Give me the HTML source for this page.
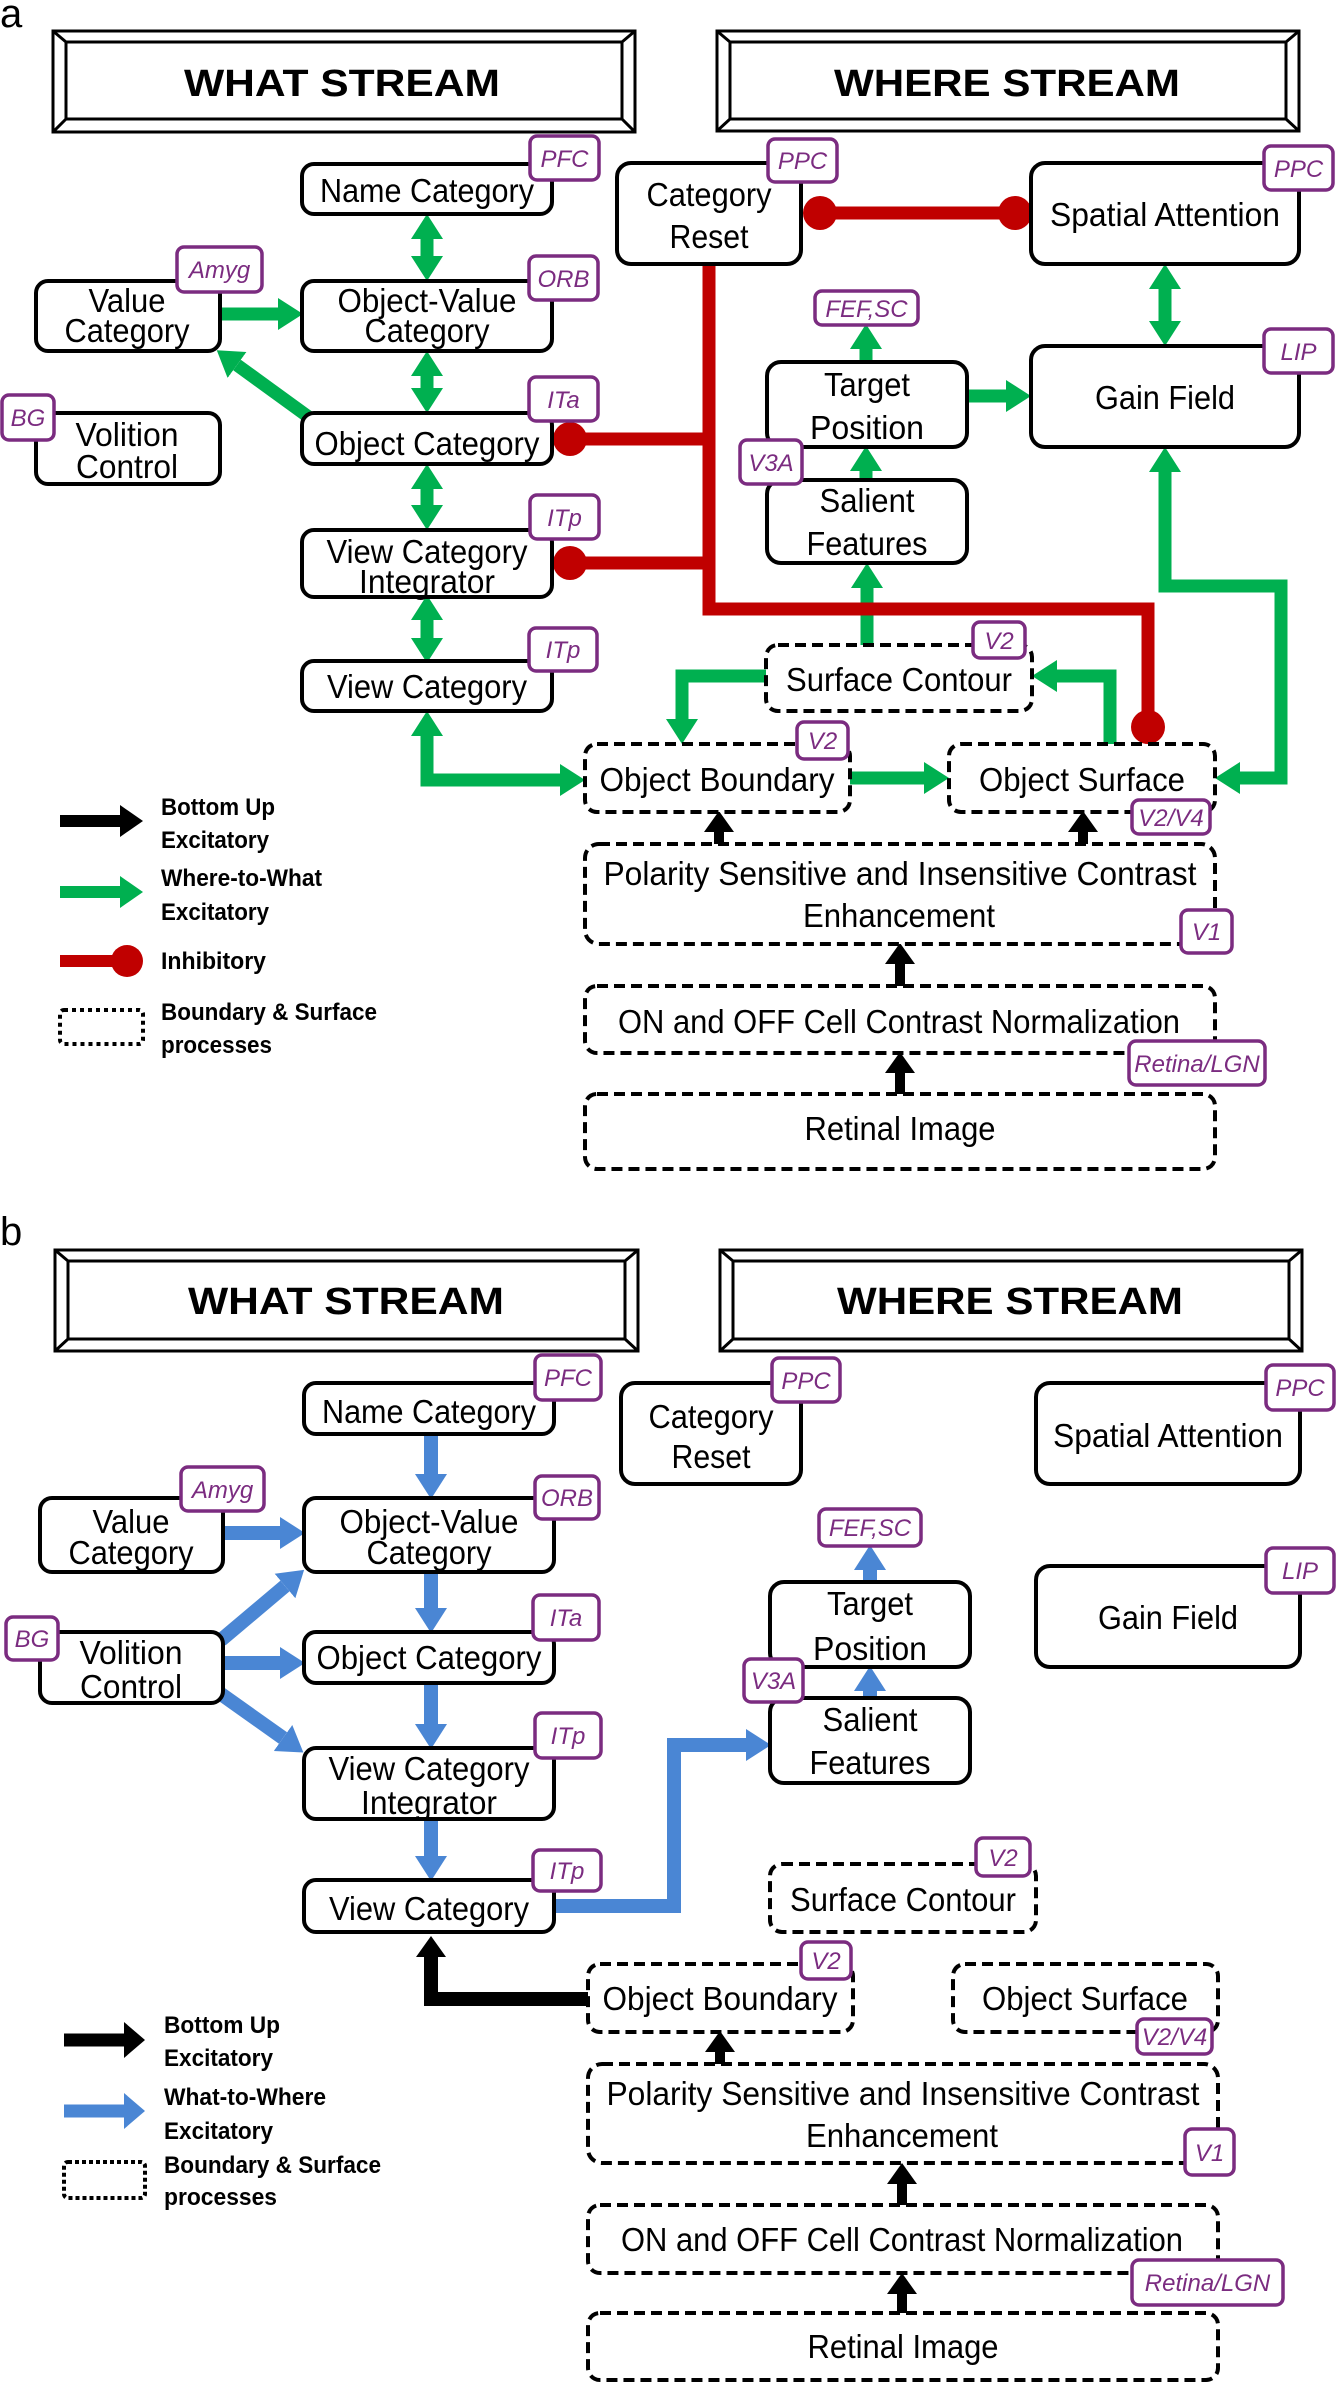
<!DOCTYPE html>
<html><head><meta charset="utf-8"><style>
html,body{margin:0;padding:0;background:#fff}
svg{display:block}
.bx{fill:#fff;stroke:#000;stroke-width:4}
.dbx{fill:#fff;stroke:#000;stroke-width:4;stroke-dasharray:11 6}
.t{font-family:"Liberation Sans",sans-serif;font-size:33px;text-anchor:middle;fill:#000}
.h{font-family:"Liberation Sans",sans-serif;font-size:38px;font-weight:900;text-anchor:middle;fill:#000}
.bd{fill:#fff;stroke:#7B2C80;stroke-width:3.5}
.bt{font-family:"Liberation Sans",sans-serif;font-size:24px;font-style:italic;text-anchor:middle;fill:#7B2C80}
.lg{font-family:"Liberation Sans",sans-serif;font-size:24px;font-weight:bold;fill:#000}
.g{stroke:#00B050;stroke-width:13;fill:none}
.r{stroke:#C00000;stroke-width:13;fill:none}
.k{stroke:#000;stroke-width:10;fill:none}
.kb{stroke:#000;stroke-width:14;fill:none}
.b{stroke:#4A86D4;stroke-width:14;fill:none}
</style></head><body>
<svg width="1337" height="2383" viewBox="0 0 1337 2383" xmlns="http://www.w3.org/2000/svg">
<defs>
<marker id="mg" markerUnits="userSpaceOnUse" markerWidth="26" markerHeight="34" refX="0" refY="17" orient="auto-start-reverse"><path d="M0,1 L25,17 L0,33 z" fill="#00B050"/></marker>
<marker id="mk" markerUnits="userSpaceOnUse" markerWidth="22" markerHeight="32" refX="0" refY="16" orient="auto-start-reverse"><path d="M0,1 L21,16 L0,31 z" fill="#000"/></marker>
<marker id="mb" markerUnits="userSpaceOnUse" markerWidth="26" markerHeight="34" refX="0" refY="17" orient="auto-start-reverse"><path d="M0,1 L25,17 L0,33 z" fill="#4A86D4"/></marker>
</defs>

<!-- ================= PANEL A ================= -->
<text x="0" y="27" font-family="Liberation Sans,sans-serif" font-size="40">a</text>
<!-- header boxes -->
<g fill="none" stroke="#000" stroke-width="3">
<rect x="53" y="31" width="582" height="101"/><rect x="66" y="42" width="556" height="77"/>
<path d="M53,31 L66,42 M635,31 L622,42 M53,132 L66,119 M635,132 L622,119"/>
<rect x="717" y="31" width="582" height="100"/><rect x="730" y="42" width="556" height="77"/>
<path d="M717,31 L730,42 M1299,31 L1286,42 M717,131 L730,119 M1299,131 L1286,119"/>
</g>
<text class="h" x="342" y="96" textLength="316" lengthAdjust="spacingAndGlyphs">WHAT STREAM</text>
<text class="h" x="1007" y="96" textLength="346" lengthAdjust="spacingAndGlyphs">WHERE STREAM</text>

<!-- connectors A -->
<g class="g">
<line x1="427" y1="239" x2="427" y2="256" marker-start="url(#mg)" marker-end="url(#mg)"/>
<line x1="427" y1="376" x2="427" y2="388" marker-start="url(#mg)" marker-end="url(#mg)"/>
<line x1="427" y1="489" x2="427" y2="505" marker-start="url(#mg)" marker-end="url(#mg)"/>
<line x1="427" y1="620" x2="427" y2="638" marker-start="url(#mg)" marker-end="url(#mg)"/>
<line x1="220" y1="314" x2="278" y2="314" marker-end="url(#mg)"/>
<line x1="310" y1="418" x2="237" y2="365" marker-end="url(#mg)"/>
<path d="M427,736 L427,780 L560,780" marker-start="url(#mg)" marker-end="url(#mg)"/>
<line x1="867" y1="645" x2="867" y2="588" marker-end="url(#mg)"/>
<line x1="866" y1="362" x2="866" y2="349" marker-end="url(#mg)"/>
<line x1="866" y1="480" x2="866" y2="471" marker-end="url(#mg)"/>
<line x1="967" y1="396" x2="1006" y2="396" marker-end="url(#mg)"/>
<line x1="1165" y1="289" x2="1165" y2="321" marker-start="url(#mg)" marker-end="url(#mg)"/>
<path d="M1165,472 L1165,586 L1281,586 L1281,778 L1240,778" marker-start="url(#mg)" marker-end="url(#mg)"/>
<path d="M766,676 L682,676 L682,719" marker-end="url(#mg)"/>
<path d="M1110,744 L1110,676 L1057,676" marker-end="url(#mg)"/>
<line x1="850" y1="778" x2="924" y2="778" marker-end="url(#mg)"/>
</g>
<g class="r">
<line x1="820" y1="213" x2="1015" y2="213"/>
<path d="M709,264 L709,609 L1148,609 L1148,727"/>
<line x1="570" y1="439" x2="709" y2="439"/>
<line x1="570" y1="563" x2="709" y2="563"/>
</g>
<g fill="#C00000">
<circle cx="820" cy="213" r="17"/><circle cx="1015" cy="213" r="17"/>
<circle cx="570" cy="439" r="17"/><circle cx="570" cy="563" r="17"/><circle cx="1148" cy="727" r="17"/>
</g>
<g class="k">
<line x1="719" y1="844" x2="719" y2="832" marker-end="url(#mk)"/>
<line x1="1083" y1="844" x2="1083" y2="832" marker-end="url(#mk)"/>
<line x1="900" y1="986" x2="900" y2="964" marker-end="url(#mk)"/>
<line x1="900" y1="1094" x2="900" y2="1073" marker-end="url(#mk)"/>
</g>

<!-- boxes A -->
<rect class="bx" x="302" y="164" width="250" height="50" rx="12"/>
<rect class="bx" x="302" y="281" width="250" height="70" rx="12"/>
<rect class="bx" x="36" y="281" width="184" height="70" rx="12"/>
<rect class="bx" x="36" y="413" width="184" height="71" rx="12"/>
<rect class="bx" x="302" y="413" width="250" height="51" rx="12"/>
<rect class="bx" x="302" y="530" width="250" height="67" rx="12"/>
<rect class="bx" x="302" y="661" width="250" height="50" rx="12"/>
<rect class="bx" x="617" y="163" width="184" height="101" rx="14"/>
<rect class="bx" x="1031" y="163" width="268" height="101" rx="14"/>
<rect class="bx" x="1031" y="346" width="268" height="101" rx="14"/>
<rect class="bx" x="767" y="362" width="200" height="85" rx="14"/>
<rect class="bx" x="767" y="480" width="200" height="83" rx="14"/>
<rect class="dbx" x="766" y="645" width="266" height="66" rx="12"/>
<rect class="dbx" x="585" y="744" width="265" height="68" rx="12"/>
<rect class="dbx" x="949" y="744" width="266" height="68" rx="12"/>
<rect class="dbx" x="585" y="844" width="630" height="100" rx="14"/>
<rect class="dbx" x="585" y="986" width="630" height="67" rx="12"/>
<rect class="dbx" x="585" y="1094" width="630" height="75" rx="12"/>

<g>
<text class="t" x="427" y="202" textLength="214" lengthAdjust="spacingAndGlyphs">Name Category</text>
<text class="t" x="427" y="312" textLength="179" lengthAdjust="spacingAndGlyphs">Object-Value</text>
<text class="t" x="427" y="342" textLength="125" lengthAdjust="spacingAndGlyphs">Category</text>
<text class="t" x="127" y="312" textLength="77" lengthAdjust="spacingAndGlyphs">Value</text>
<text class="t" x="127" y="342" textLength="125" lengthAdjust="spacingAndGlyphs">Category</text>
<text class="t" x="127" y="446" textLength="103" lengthAdjust="spacingAndGlyphs">Volition</text>
<text class="t" x="127" y="478" textLength="102" lengthAdjust="spacingAndGlyphs">Control</text>
<text class="t" x="427" y="455" textLength="225" lengthAdjust="spacingAndGlyphs">Object Category</text>
<text class="t" x="427" y="563" textLength="201" lengthAdjust="spacingAndGlyphs">View Category</text>
<text class="t" x="427" y="593" textLength="136" lengthAdjust="spacingAndGlyphs">Integrator</text>
<text class="t" x="427" y="698" textLength="200" lengthAdjust="spacingAndGlyphs">View Category</text>
<text class="t" x="709" y="206" textLength="125" lengthAdjust="spacingAndGlyphs">Category</text>
<text class="t" x="709" y="248" textLength="79" lengthAdjust="spacingAndGlyphs">Reset</text>
<text class="t" x="1165" y="226" textLength="230" lengthAdjust="spacingAndGlyphs">Spatial Attention</text>
<text class="t" x="1165" y="409" textLength="140" lengthAdjust="spacingAndGlyphs">Gain Field</text>
<text class="t" x="867" y="396" textLength="86" lengthAdjust="spacingAndGlyphs">Target</text>
<text class="t" x="867" y="439" textLength="114" lengthAdjust="spacingAndGlyphs">Position</text>
<text class="t" x="867" y="512" textLength="95" lengthAdjust="spacingAndGlyphs">Salient</text>
<text class="t" x="867" y="555" textLength="121" lengthAdjust="spacingAndGlyphs">Features</text>
<text class="t" x="899" y="691" textLength="226" lengthAdjust="spacingAndGlyphs">Surface Contour</text>
<text class="t" x="717" y="791" textLength="235" lengthAdjust="spacingAndGlyphs">Object Boundary</text>
<text class="t" x="1082" y="791" textLength="206" lengthAdjust="spacingAndGlyphs">Object Surface</text>
<text class="t" x="900" y="885" textLength="593" lengthAdjust="spacingAndGlyphs">Polarity Sensitive and Insensitive Contrast</text>
<text class="t" x="899" y="927" textLength="192" lengthAdjust="spacingAndGlyphs">Enhancement</text>
<text class="t" x="899" y="1033" textLength="562" lengthAdjust="spacingAndGlyphs">ON and OFF Cell Contrast Normalization</text>
<text class="t" x="900" y="1140" textLength="191" lengthAdjust="spacingAndGlyphs">Retinal Image</text>
</g>

<!-- badges A -->
<g>
<rect class="bd" x="530" y="136" width="69" height="44" rx="7"/><text class="bt" x="564.5" y="167">PFC</text>
<rect class="bd" x="177" y="247" width="85" height="45" rx="7"/><text class="bt" x="219.5" y="278">Amyg</text>
<rect class="bd" x="529" y="256" width="69" height="44" rx="7"/><text class="bt" x="563.5" y="287">ORB</text>
<rect class="bd" x="2" y="395" width="52" height="45" rx="7"/><text class="bt" x="28" y="426">BG</text>
<rect class="bd" x="529" y="377" width="69" height="44" rx="7"/><text class="bt" x="563.5" y="408">ITa</text>
<rect class="bd" x="530" y="495" width="69" height="44" rx="7"/><text class="bt" x="564.5" y="526">ITp</text>
<rect class="bd" x="529" y="628" width="68" height="43" rx="7"/><text class="bt" x="563" y="658">ITp</text>
<rect class="bd" x="768" y="139" width="69" height="43" rx="7"/><text class="bt" x="802.5" y="169">PPC</text>
<rect class="bd" x="1264" y="146" width="69" height="44" rx="7"/><text class="bt" x="1298.5" y="177">PPC</text>
<rect class="bd" x="815" y="291" width="103" height="34" rx="7"/><text class="bt" x="866.5" y="317">FEF,SC</text>
<rect class="bd" x="1264" y="329" width="69" height="44" rx="7"/><text class="bt" x="1298.5" y="360">LIP</text>
<rect class="bd" x="740" y="440" width="62" height="44" rx="7"/><text class="bt" x="771" y="471">V3A</text>
<rect class="bd" x="973" y="622" width="52" height="36" rx="7"/><text class="bt" x="999" y="649">V2</text>
<rect class="bd" x="797" y="722" width="51" height="37" rx="7"/><text class="bt" x="822.5" y="749">V2</text>
<rect class="bd" x="1132" y="800" width="78" height="34" rx="7"/><text class="bt" x="1171" y="826">V2/V4</text>
<rect class="bd" x="1181" y="910" width="51" height="43" rx="7"/><text class="bt" x="1206.5" y="940">V1</text>
<rect class="bd" x="1129" y="1041" width="136" height="44" rx="7"/><text class="bt" x="1197" y="1072">Retina/LGN</text>
</g>

<!-- legend A -->
<line x1="60" y1="821" x2="121" y2="821" stroke="#000" stroke-width="12"/><path d="M120,805 L143,821 L120,837z" fill="#000"/>
<line x1="60" y1="892" x2="121" y2="892" stroke="#00B050" stroke-width="12"/><path d="M120,876 L143,892 L120,908z" fill="#00B050"/>
<line x1="60" y1="961" x2="126" y2="961" stroke="#C00000" stroke-width="12"/><circle cx="127" cy="961" r="16" fill="#C00000"/>
<rect x="60" y="1010" width="83" height="34" rx="4" fill="none" stroke="#000" stroke-width="4" stroke-dasharray="4 4"/>
<text class="lg" x="161" y="815" textLength="114" lengthAdjust="spacingAndGlyphs">Bottom Up</text>
<text class="lg" x="161" y="848" textLength="108" lengthAdjust="spacingAndGlyphs">Excitatory</text>
<text class="lg" x="161" y="886" textLength="161" lengthAdjust="spacingAndGlyphs">Where-to-What</text>
<text class="lg" x="161" y="920" textLength="108" lengthAdjust="spacingAndGlyphs">Excitatory</text>
<text class="lg" x="161" y="969" textLength="105" lengthAdjust="spacingAndGlyphs">Inhibitory</text>
<text class="lg" x="161" y="1020" textLength="216" lengthAdjust="spacingAndGlyphs">Boundary &amp; Surface</text>
<text class="lg" x="161" y="1053" textLength="111" lengthAdjust="spacingAndGlyphs">processes</text>

<!-- ================= PANEL B ================= -->
<text x="0" y="1245" font-family="Liberation Sans,sans-serif" font-size="40">b</text>
<g fill="none" stroke="#000" stroke-width="3">
<rect x="55" y="1250" width="583" height="101"/><rect x="68" y="1261" width="557" height="78"/>
<path d="M55,1250 L68,1261 M638,1250 L625,1261 M55,1351 L68,1339 M638,1351 L625,1339"/>
<rect x="720" y="1250" width="582" height="101"/><rect x="733" y="1261" width="556" height="78"/>
<path d="M720,1250 L733,1261 M1302,1250 L1289,1261 M720,1351 L733,1339 M1302,1351 L1289,1339"/>
</g>
<text class="h" x="346" y="1314" textLength="316" lengthAdjust="spacingAndGlyphs">WHAT STREAM</text>
<text class="h" x="1010" y="1314" textLength="346" lengthAdjust="spacingAndGlyphs">WHERE STREAM</text>

<g class="b">
<line x1="431" y1="1434" x2="431" y2="1474" marker-end="url(#mb)"/>
<line x1="431" y1="1572" x2="431" y2="1608" marker-end="url(#mb)"/>
<line x1="431" y1="1683" x2="431" y2="1724" marker-end="url(#mb)"/>
<line x1="431" y1="1819" x2="431" y2="1856" marker-end="url(#mb)"/>
<line x1="223" y1="1533" x2="280" y2="1533" marker-end="url(#mb)"/>
<line x1="221" y1="1640" x2="285" y2="1586" marker-end="url(#mb)"/>
<line x1="223" y1="1663" x2="280" y2="1663" marker-end="url(#mb)"/>
<line x1="221" y1="1694" x2="283" y2="1738" marker-end="url(#mb)"/>
<path d="M554,1906 L674,1906 L674,1745 L746,1745" marker-end="url(#mb)"/>
<line x1="870" y1="1582" x2="870" y2="1570" marker-end="url(#mb)"/>
<line x1="870" y1="1698" x2="870" y2="1691" marker-end="url(#mb)"/>
</g>
<path class="kb" d="M588,1999 L431,1999 L431,1957" marker-end="url(#mk)"/>
<g class="k">
<line x1="720" y1="2064" x2="720" y2="2052" marker-end="url(#mk)"/>
<line x1="902" y1="2205" x2="902" y2="2184" marker-end="url(#mk)"/>
<line x1="902" y1="2313" x2="902" y2="2294" marker-end="url(#mk)"/>
</g>

<rect class="bx" x="304" y="1383" width="250" height="51" rx="12"/>
<rect class="bx" x="621" y="1383" width="180" height="101" rx="14"/>
<rect class="bx" x="1036" y="1383" width="264" height="101" rx="14"/>
<rect class="bx" x="40" y="1498" width="183" height="74" rx="12"/>
<rect class="bx" x="304" y="1498" width="250" height="74" rx="12"/>
<rect class="bx" x="1036" y="1566" width="264" height="101" rx="14"/>
<rect class="bx" x="770" y="1582" width="200" height="85" rx="14"/>
<rect class="bx" x="770" y="1698" width="200" height="85" rx="14"/>
<rect class="bx" x="40" y="1632" width="183" height="71" rx="12"/>
<rect class="bx" x="304" y="1632" width="250" height="51" rx="12"/>
<rect class="bx" x="304" y="1748" width="250" height="71" rx="12"/>
<rect class="bx" x="304" y="1880" width="250" height="52" rx="12"/>
<rect class="dbx" x="770" y="1864" width="266" height="68" rx="12"/>
<rect class="dbx" x="588" y="1964" width="265" height="68" rx="12"/>
<rect class="dbx" x="953" y="1964" width="265" height="68" rx="12"/>
<rect class="dbx" x="588" y="2064" width="630" height="99" rx="14"/>
<rect class="dbx" x="588" y="2205" width="630" height="68" rx="12"/>
<rect class="dbx" x="588" y="2313" width="630" height="67" rx="12"/>

<g>
<text class="t" x="429" y="1423" textLength="214" lengthAdjust="spacingAndGlyphs">Name Category</text>
<text class="t" x="711" y="1428" textLength="125" lengthAdjust="spacingAndGlyphs">Category</text>
<text class="t" x="711" y="1468" textLength="79" lengthAdjust="spacingAndGlyphs">Reset</text>
<text class="t" x="1168" y="1447" textLength="230" lengthAdjust="spacingAndGlyphs">Spatial Attention</text>
<text class="t" x="131" y="1533" textLength="77" lengthAdjust="spacingAndGlyphs">Value</text>
<text class="t" x="131" y="1564" textLength="125" lengthAdjust="spacingAndGlyphs">Category</text>
<text class="t" x="429" y="1533" textLength="179" lengthAdjust="spacingAndGlyphs">Object-Value</text>
<text class="t" x="429" y="1564" textLength="125" lengthAdjust="spacingAndGlyphs">Category</text>
<text class="t" x="1168" y="1629" textLength="140" lengthAdjust="spacingAndGlyphs">Gain Field</text>
<text class="t" x="870" y="1615" textLength="86" lengthAdjust="spacingAndGlyphs">Target</text>
<text class="t" x="870" y="1660" textLength="114" lengthAdjust="spacingAndGlyphs">Position</text>
<text class="t" x="131" y="1664" textLength="103" lengthAdjust="spacingAndGlyphs">Volition</text>
<text class="t" x="131" y="1698" textLength="102" lengthAdjust="spacingAndGlyphs">Control</text>
<text class="t" x="429" y="1669" textLength="225" lengthAdjust="spacingAndGlyphs">Object Category</text>
<text class="t" x="429" y="1780" textLength="201" lengthAdjust="spacingAndGlyphs">View Category</text>
<text class="t" x="429" y="1814" textLength="136" lengthAdjust="spacingAndGlyphs">Integrator</text>
<text class="t" x="870" y="1731" textLength="95" lengthAdjust="spacingAndGlyphs">Salient</text>
<text class="t" x="870" y="1774" textLength="121" lengthAdjust="spacingAndGlyphs">Features</text>
<text class="t" x="429" y="1920" textLength="200" lengthAdjust="spacingAndGlyphs">View Category</text>
<text class="t" x="903" y="1911" textLength="226" lengthAdjust="spacingAndGlyphs">Surface Contour</text>
<text class="t" x="720" y="2010" textLength="235" lengthAdjust="spacingAndGlyphs">Object Boundary</text>
<text class="t" x="1085" y="2010" textLength="206" lengthAdjust="spacingAndGlyphs">Object Surface</text>
<text class="t" x="903" y="2105" textLength="593" lengthAdjust="spacingAndGlyphs">Polarity Sensitive and Insensitive Contrast</text>
<text class="t" x="902" y="2147" textLength="192" lengthAdjust="spacingAndGlyphs">Enhancement</text>
<text class="t" x="902" y="2251" textLength="562" lengthAdjust="spacingAndGlyphs">ON and OFF Cell Contrast Normalization</text>
<text class="t" x="903" y="2358" textLength="191" lengthAdjust="spacingAndGlyphs">Retinal Image</text>
</g>

<g>
<rect class="bd" x="535" y="1355" width="66" height="45" rx="7"/><text class="bt" x="568" y="1386">PFC</text>
<rect class="bd" x="772" y="1358" width="68" height="44" rx="7"/><text class="bt" x="806" y="1389">PPC</text>
<rect class="bd" x="1266" y="1365" width="68" height="45" rx="7"/><text class="bt" x="1300" y="1396">PPC</text>
<rect class="bd" x="181" y="1467" width="83" height="44" rx="7"/><text class="bt" x="222.5" y="1498">Amyg</text>
<rect class="bd" x="535" y="1476" width="64" height="43" rx="7"/><text class="bt" x="567" y="1506">ORB</text>
<rect class="bd" x="819" y="1509" width="102" height="37" rx="7"/><text class="bt" x="870" y="1536">FEF,SC</text>
<rect class="bd" x="1266" y="1548" width="68" height="45" rx="7"/><text class="bt" x="1300" y="1579">LIP</text>
<rect class="bd" x="6" y="1617" width="52" height="43" rx="7"/><text class="bt" x="32" y="1647">BG</text>
<rect class="bd" x="533" y="1595" width="66" height="45" rx="7"/><text class="bt" x="566" y="1626">ITa</text>
<rect class="bd" x="744" y="1659" width="59" height="43" rx="7"/><text class="bt" x="773.5" y="1689">V3A</text>
<rect class="bd" x="535" y="1713" width="66" height="45" rx="7"/><text class="bt" x="568" y="1744">ITp</text>
<rect class="bd" x="533" y="1850" width="68" height="41" rx="7"/><text class="bt" x="567" y="1879">ITp</text>
<rect class="bd" x="976" y="1838" width="54" height="38" rx="7"/><text class="bt" x="1003" y="1866">V2</text>
<rect class="bd" x="801" y="1942" width="50" height="37" rx="7"/><text class="bt" x="826" y="1969">V2</text>
<rect class="bd" x="1137" y="2019" width="75" height="35" rx="7"/><text class="bt" x="1174.5" y="2045">V2/V4</text>
<rect class="bd" x="1185" y="2129" width="49" height="46" rx="7"/><text class="bt" x="1209.5" y="2161">V1</text>
<rect class="bd" x="1132" y="2260" width="151" height="45" rx="7"/><text class="bt" x="1207.5" y="2291">Retina/LGN</text>
</g>

<!-- legend B -->
<line x1="64" y1="2040" x2="126" y2="2040" stroke="#000" stroke-width="13"/><path d="M124,2022 L145,2040 L124,2058z" fill="#000"/>
<line x1="64" y1="2111" x2="126" y2="2111" stroke="#4A86D4" stroke-width="13"/><path d="M124,2093 L145,2111 L124,2129z" fill="#4A86D4"/>
<rect x="64" y="2162" width="81" height="36" rx="4" fill="none" stroke="#000" stroke-width="4" stroke-dasharray="4 3"/>
<text class="lg" x="164" y="2033" textLength="116" lengthAdjust="spacingAndGlyphs">Bottom Up</text>
<text class="lg" x="164" y="2066" textLength="109" lengthAdjust="spacingAndGlyphs">Excitatory</text>
<text class="lg" x="164" y="2105" textLength="162" lengthAdjust="spacingAndGlyphs">What-to-Where</text>
<text class="lg" x="164" y="2139" textLength="109" lengthAdjust="spacingAndGlyphs">Excitatory</text>
<text class="lg" x="164" y="2173" textLength="217" lengthAdjust="spacingAndGlyphs">Boundary &amp; Surface</text>
<text class="lg" x="164" y="2205" textLength="113" lengthAdjust="spacingAndGlyphs">processes</text>
</svg>
</body></html>
